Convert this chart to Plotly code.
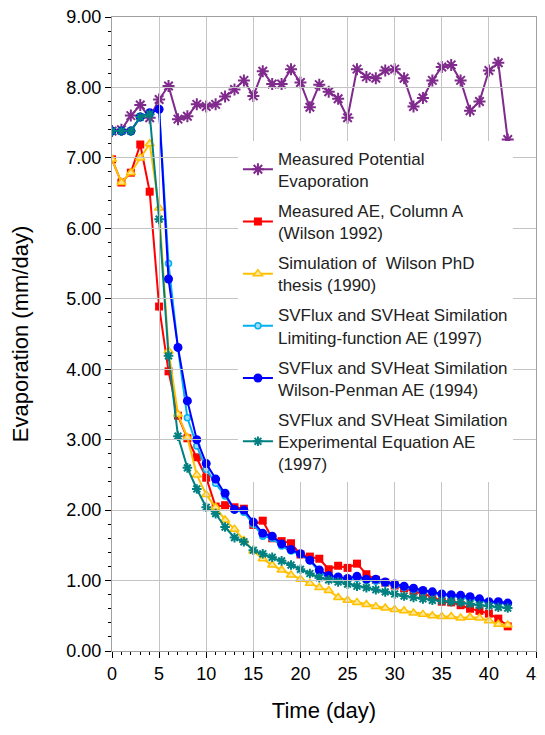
import plotly.graph_objects as go

days = list(range(0, 43))

measured_pe = [7.38, 7.40, 7.60, 7.75, 7.57, 7.83, 8.02, 7.55, 7.59, 7.76,
               7.73, 7.76, 7.87, 7.97, 8.10, 7.88, 8.23, 8.05, 8.05, 8.26,
               8.07, 7.72, 8.04, 7.94, 7.84, 7.57, 8.26, 8.15, 8.13, 8.24,
               8.26, 8.13, 7.73, 7.85, 8.10, 8.29, 8.32, 8.10, 7.67, 7.80,
               8.24, 8.35, 7.26]

measured_ae = [6.98, 6.65, 6.79, 7.19, 6.52, 4.89, 3.97, 3.34, 3.02, 2.75,
               2.46, 2.05, 2.07, 2.04, 2.02, 1.79, 1.85, 1.60, 1.56, 1.53,
               1.37, 1.34, 1.31, 1.16, 1.21, 1.18, 1.24, 1.09, 1.01, 0.97,
               0.93, 0.89, 0.85, 0.81, 0.77, 0.70, 0.69, 0.65, 0.60, 0.57,
               0.53, 0.46, 0.35]

wilson_sim = [6.98, 6.65, 6.79, 7.00, 7.20, 6.29, 4.26, 3.36, 3.03, 2.50,
              2.22, 2.04, 1.86, 1.73, 1.57, 1.42, 1.31, 1.22, 1.15, 1.08,
              1.02, 0.96, 0.90, 0.86, 0.76, 0.72, 0.69, 0.66, 0.63, 0.61,
              0.59, 0.57, 0.54, 0.52, 0.50, 0.49, 0.49, 0.47, 0.48, 0.47,
              0.43, 0.38, 0.37]

limiting_ae = [7.38, 7.38, 7.38, 7.58, 7.63, 7.69, 5.50, 4.30, 3.31, 2.91,
               2.58, 2.38, 2.20, 2.00, 1.97, 1.80, 1.63, 1.60, 1.49, 1.42,
               1.37, 1.28, 1.13, 1.04, 1.01, 1.00, 1.03, 1.00, 0.99, 0.96,
               0.93, 0.90, 0.87, 0.84, 0.82, 0.80, 0.78, 0.77, 0.75, 0.72,
               0.69, 0.68, 0.67]

penman_ae = [7.38, 7.38, 7.38, 7.58, 7.64, 7.69, 5.28, 4.31, 3.55, 3.00,
             2.66, 2.44, 2.24, 2.01, 2.00, 1.83, 1.67, 1.63, 1.52, 1.44,
             1.38, 1.29, 1.15, 1.07, 1.05, 1.03, 1.06, 1.02, 1.02, 0.98,
             0.95, 0.92, 0.89, 0.86, 0.84, 0.81, 0.80, 0.79, 0.77, 0.74,
             0.70, 0.70, 0.68]

experimental_ae = [7.38, 7.38, 7.38, 7.58, 7.62, 6.13, 4.19, 3.05, 2.60, 2.30,
                   2.04, 1.95, 1.76, 1.61, 1.55, 1.43, 1.38, 1.33, 1.28, 1.22,
                   1.16, 1.10, 1.04, 1.01, 0.98, 0.95, 0.92, 0.90, 0.87, 0.84,
                   0.81, 0.78, 0.76, 0.74, 0.72, 0.71, 0.70, 0.69, 0.67, 0.65,
                   0.64, 0.62, 0.61]

names = [
    "Measured Potential<br>Evaporation",
    "Measured AE, Column A<br>(Wilson 1992)",
    "Simulation of  Wilson PhD<br>thesis (1990)",
    "SVFlux and SVHeat Similation<br>Limiting-function AE (1997)",
    "SVFlux and SVHeat Similation<br>Wilson-Penman AE (1994)",
    "SVFlux and SVHeat Similation<br>Experimental Equation AE<br>(1997)",
]

FONT = "Liberation Sans, Arial, sans-serif"
GRID = "#C4C4C4"
FRAME = "#A0A0A0"

# figure / plot-area geometry (page body adds an 8px offset)
FIG_W, FIG_H = 537, 715
M_L, M_R, M_T, M_B = 104, 9, 9, 72
PLOT_W = FIG_W - M_L - M_R
PLOT_H = FIG_H - M_T - M_B

fig = go.Figure()

# invisible copy of one series on the overlay axes, so that those axes
# (which draw the light grid and the gray frame) are created
fig.add_trace(go.Scatter(x=days, y=measured_pe, xaxis="x2", yaxis="y2",
                         mode="markers", marker=dict(opacity=0, size=1),
                         showlegend=False, hoverinfo="skip"))

fig.add_trace(go.Scatter(
    x=days, y=measured_pe, name=names[0], mode="lines+markers",
    line=dict(color="#7F2A8C", width=2),
    marker=dict(symbol="asterisk-open", size=10, color="#7F2A8C",
                line=dict(color="#7F2A8C", width=2)),
))
fig.add_trace(go.Scatter(
    x=days, y=measured_ae, name=names[1], mode="lines+markers",
    line=dict(color="#FF0000", width=2),
    marker=dict(symbol="square", size=8, color="#FF0000"),
))
fig.add_trace(go.Scatter(
    x=days, y=wilson_sim, name=names[2], mode="lines+markers",
    line=dict(color="#FFC000", width=2),
    marker=dict(symbol="triangle-up", size=8, color="#FFE699",
                line=dict(color="#FFC000", width=1.5)),
))
fig.add_trace(go.Scatter(
    x=days, y=limiting_ae, name=names[3], mode="lines+markers",
    line=dict(color="#00B0F0", width=2),
    marker=dict(symbol="circle", size=6, color="#9DDCF5",
                line=dict(color="#00B0F0", width=1.5)),
))
fig.add_trace(go.Scatter(
    x=days, y=penman_ae, name=names[4], mode="lines+markers",
    line=dict(color="#0000FF", width=2),
    marker=dict(symbol="circle", size=9, color="#0000FF"),
))
fig.add_trace(go.Scatter(
    x=days, y=experimental_ae, name=names[5], mode="lines+markers",
    line=dict(color="#008080", width=2),
    marker=dict(symbol="asterisk-open", size=8, color="#008080",
                line=dict(color="#008080", width=2)),
))

fig.update_layout(
    template="none",
    width=FIG_W, height=FIG_H,
    margin=dict(l=M_L, r=M_R, t=M_T, b=M_B),
    paper_bgcolor="white", plot_bgcolor="white",
    font=dict(family=FONT, size=18, color="#000000"),
    showlegend=True,
    legend=dict(
        x=0.297, y=0.805, xanchor="left", yanchor="top",
        bgcolor="white", borderwidth=0,
        font=dict(family=FONT, size=17, color="#222222"),
        tracegroupgap=5,
    ),
    xaxis=dict(
        range=[0, 45], dtick=5, tick0=0, automargin=False,
        showgrid=True, gridcolor=GRID, gridwidth=1,
        showline=True, linecolor="#000000", linewidth=1,
        ticks="outside", ticklen=6, tickcolor="#000000",
        ticklabeloverflow="allow", layer="above traces",
        minor=dict(dtick=1, ticks="outside", ticklen=3, tickcolor="#000000",
                   showgrid=False),
        tickfont=dict(family=FONT, size=18),
        title=dict(text="Time (day)", font=dict(family=FONT, size=22), standoff=22),
        zeroline=False,
    ),
    yaxis=dict(
        range=[0, 9], dtick=1, tick0=0, tickformat=".2f", automargin=False,
        showgrid=True, gridcolor=GRID, gridwidth=1,
        showline=True, linecolor="#000000", linewidth=1,
        ticks="outside", ticklen=6, tickcolor="#000000",
        ticklabeloverflow="allow", layer="above traces",
        minor=dict(dtick=0.2, ticks="outside", ticklen=3, tickcolor="#000000",
                   showgrid=False),
        tickfont=dict(family=FONT, size=18),
        title=dict(text="Evaporation (mm/day)", font=dict(family=FONT, size=22), standoff=32),
        zeroline=False,
    ),
    # overlay axes: full-length inside ticks act as the light grid,
    # mirrored lines give the gray top/right frame
    xaxis2=dict(
        overlaying="x", anchor="y2", side="bottom",
        range=[0, 45], dtick=5, tick0=0, automargin=False,
        showticklabels=False, showgrid=False, zeroline=False,
        ticks="inside", ticklen=PLOT_H, tickwidth=1, tickcolor=GRID,
        showline=True, mirror=True, linecolor=FRAME, linewidth=1,
        layer="above traces",
    ),
    yaxis2=dict(
        overlaying="y", anchor="x2", side="left",
        range=[0, 9], dtick=1, tick0=0, automargin=False,
        showticklabels=False, showgrid=False, zeroline=False,
        ticks="inside", ticklen=PLOT_W, tickwidth=1, tickcolor=GRID,
        showline=True, mirror=True, linecolor=FRAME, linewidth=1,
        layer="above traces",
    ),
)

for i, t in enumerate(fig.data[1:]):
    t.legendgroup = f"g{i}"

fig.write_html("out.html")
